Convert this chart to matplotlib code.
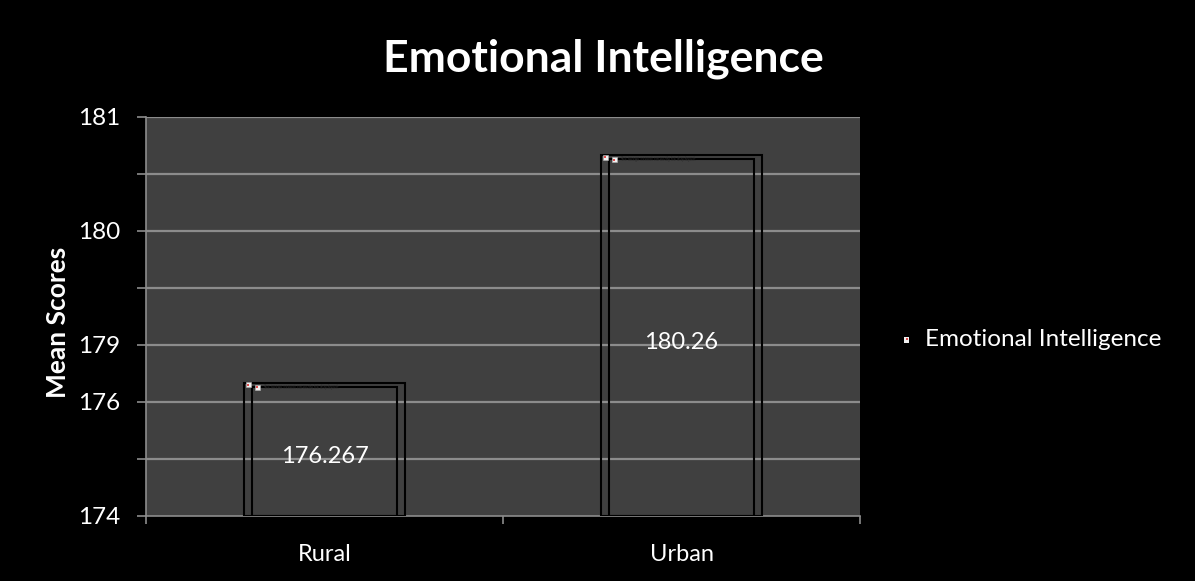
import matplotlib
matplotlib.use("Agg")
import matplotlib.pyplot as plt
from matplotlib.patches import Rectangle

# Data
categories = ["Rural", "Urban"]
mean_scores = [176.267, 180.26]
value_labels = ["176.267", "180.26"]
series_name = "Emotional Intelligence"
tick_values = [174, 176, 177, 179, 181]
tick_labels = ["174", "176", "179", "180", "181"]

y_min, y_max = 174, 181

W, H = 1195, 581
fig = plt.figure(figsize=(W / 100, H / 100), dpi=100, facecolor="black")
ax = fig.add_axes([146 / W, (H - 516) / H, (860 - 146) / W, (516 - 117) / H])
ax.set_facecolor("#404040")

font = "Lato"
grid_c = "#8c8c8c"

x = list(range(len(categories)))
ax.set_xlim(-0.5, len(categories) - 0.5)
ax.set_ylim(y_min, y_max)

# gridlines at every unit
for g in range(y_min + 1, y_max + 1):
    ax.axhline(g, color=grid_c, lw=1.6, zorder=1)

# bars drawn as empty image frames
bar_w = 0.406
frame_w = 0.451
for xi, v, lab in zip(x, mean_scores, value_labels):
    ax.bar(xi, v - y_min, bottom=y_min, width=bar_w, fill=False,
           edgecolor="black", lw=1.5, zorder=3)
    ax.bar(xi, v - y_min + 0.07, bottom=y_min, width=frame_w, fill=False,
           edgecolor="black", lw=1.5, zorder=3)
    # broken image icons
    for dx, dy in [(-frame_w / 2 + 0.012, v + 0.035), (-bar_w / 2 + 0.015, v - 0.01)]:
        ax.add_patch(Rectangle((xi + dx - 0.007, dy - 0.045), 0.014, 0.09,
                               facecolor="#f2f2f2", edgecolor="#b0b0b0",
                               lw=0.4, zorder=4))
        ax.add_patch(Rectangle((xi + dx - 0.003, dy - 0.02), 0.006, 0.04,
                               facecolor="#e05050", edgecolor="none", zorder=5))
    ax.text(xi - bar_w / 2 + 0.03, v + 0.02, "The image cannot currently be displayed.",
            fontsize=2.6, color="#2a2a2a", va="center", ha="left", zorder=5)
    ax.text(xi - bar_w / 2 + 0.03, v - 0.02, "The image cannot currently be displayed.",
            fontsize=2.6, color="#2a2a2a", va="center", ha="left", zorder=5)
    ax.text(xi, (v + y_min) / 2 - 0.09, lab, ha="center", va="center",
            color="white", fontsize=17, family=font, zorder=6)

for s in ["top", "right"]:
    ax.spines[s].set_visible(False)
for s in ["left", "bottom"]:
    ax.spines[s].set_color(grid_c)
    ax.spines[s].set_linewidth(1.2)

ax.set_yticks(tick_values)
ax.set_yticklabels(tick_labels)
ax.set_yticks(range(y_min, y_max + 1), minor=True)
ax.tick_params(axis="y", which="both", direction="out", length=6.5,
               color=grid_c, width=1.2, labelcolor="white", labelsize=17.5, pad=12)
for t in ax.get_yticklabels():
    t.set_family(font)

ax.set_xticks([-0.5, 0.5, 1.5])
ax.set_xticklabels(["", "", ""])
ax.set_xticks(x, minor=True)
ax.set_xticklabels(categories, minor=True)
ax.tick_params(axis="x", which="major", direction="out", length=6,
               color=grid_c, width=1.2)
ax.tick_params(axis="x", which="minor", length=0, labelcolor="white",
               labelsize=17, pad=20)
for t in ax.get_xticklabels(minor=True):
    t.set_family(font)

fig.text(58 / W, 1 - 322 / H, "Mean Scores", rotation=90, ha="center", va="center",
         color="white", fontsize=19, fontweight="bold", family=font)

fig.text(603 / W, 1 - 59 / H, "Emotional Intelligence", ha="center", va="center",
         color="white", fontsize=32, fontweight="bold", family=font)

# legend
fig.patches.append(Rectangle((904 / W, 1 - 343 / H), 5 / W, 6 / H,
                             transform=fig.transFigure, facecolor="#f0f0f0",
                             edgecolor="none"))
fig.patches.append(Rectangle((906 / W, 1 - 340 / H), 2 / W, 2 / H,
                             transform=fig.transFigure, facecolor="#e05050",
                             edgecolor="none"))
fig.text(925 / W, 1 - 340 / H, series_name, ha="left", va="center",
         color="white", fontsize=17.5, family=font)

fig.savefig("out.png", dpi=100, facecolor="black")
